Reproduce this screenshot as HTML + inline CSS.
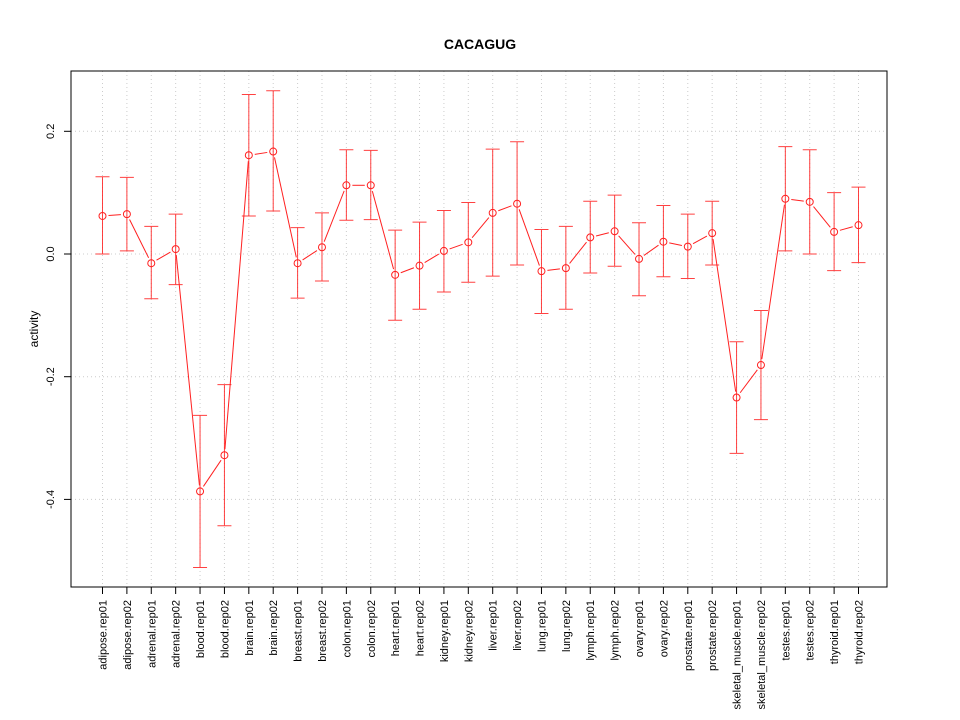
<!DOCTYPE html>
<html><head><meta charset="utf-8"><style>body{margin:0;background:#fff}svg{display:block}</style></head>
<body>
<svg id="chart" width="960" height="720" xmlns="http://www.w3.org/2000/svg" font-family="Liberation Sans, sans-serif">
<rect width="960" height="720" fill="#fff"/>
<text x="480" y="49" text-anchor="middle" font-size="14" font-weight="bold">CACAGUG</text>
<text transform="translate(38,329) rotate(-90)" text-anchor="middle" font-size="12">activity</text>
<g id="grid"></g><g id="axes"></g><g id="marks"></g>
<rect x="71" y="71" width="816" height="516" fill="none" stroke="#000"/>
</svg>
<script>
const categories=["adipose.rep01","adipose.rep02","adrenal.rep01","adrenal.rep02","blood.rep01","blood.rep02","brain.rep01","brain.rep02","breast.rep01","breast.rep02","colon.rep01","colon.rep02","heart.rep01","heart.rep02","kidney.rep01","kidney.rep02","liver.rep01","liver.rep02","lung.rep01","lung.rep02","lymph.rep01","lymph.rep02","ovary.rep01","ovary.rep02","prostate.rep01","prostate.rep02","skeletal_muscle.rep01","skeletal_muscle.rep02","testes.rep01","testes.rep02","thyroid.rep01","thyroid.rep02"];
const values=[0.062,0.065,-0.015,0.008,-0.387,-0.328,0.161,0.167,-0.015,0.011,0.112,0.112,-0.034,-0.019,0.005,0.019,0.067,0.082,-0.028,-0.023,0.027,0.037,-0.008,0.02,0.012,0.034,-0.234,-0.181,0.09,0.085,0.036,0.047];
const upper=[0.126,0.125,0.045,0.065,-0.263,-0.213,0.26,0.266,0.043,0.067,0.17,0.169,0.039,0.052,0.071,0.084,0.171,0.183,0.04,0.045,0.086,0.096,0.051,0.079,0.065,0.086,-0.143,-0.092,0.175,0.17,0.1,0.109];
const lower=[0.0,0.005,-0.073,-0.05,-0.511,-0.443,0.062,0.07,-0.072,-0.044,0.055,0.056,-0.108,-0.09,-0.062,-0.046,-0.036,-0.018,-0.097,-0.09,-0.031,-0.02,-0.068,-0.037,-0.04,-0.018,-0.325,-0.27,0.005,0.0,-0.027,-0.014];
const yTicks=[-0.4,-0.2,0.0,0.2];
const yTickLabels=["-0.4","-0.2","0.0","0.2"];
const NS="http://www.w3.org/2000/svg";
const xs=i=>102.5+i*(756/31);
const ys=v=>254-v*613.5;
function mk(tag,attrs,parent){const e=document.createElementNS(NS,tag);for(const k in attrs)e.setAttribute(k,attrs[k]);parent.appendChild(e);return e;}
const grid=document.getElementById('grid'),axes=document.getElementById('axes'),marks=document.getElementById('marks');
categories.forEach((c,i)=>{
  const g=mk('line',{x1:xs(i),x2:xs(i),y1:71,y2:587,stroke:'#ccc','stroke-dasharray':'1,3'},grid);
  
  const t=mk('line',{x1:xs(i),x2:xs(i),y1:587,y2:594,stroke:'#000'},axes);
  
  const l=mk('text',{transform:`translate(${xs(i)+4},600) rotate(-90)`,'text-anchor':'end','font-size':11},axes);
  l.textContent=c;
  
});
yTicks.forEach((v,i)=>{
  const g=mk('line',{x1:71,x2:887,y1:ys(v),y2:ys(v),stroke:'#ccc','stroke-dasharray':'1,3'},grid);
  
  const t=mk('line',{x1:64,x2:71,y1:ys(v),y2:ys(v),stroke:'#000'},axes);
  
  const l=mk('text',{transform:`translate(54,${ys(v)}) rotate(-90)`,'text-anchor':'middle','font-size':11},axes);
  l.textContent=yTickLabels[i];
  
});
const red='#ff2020';
values.forEach((v,i)=>{
  const x=xs(i);
  const e=mk('path',{d:`M${x},${ys(upper[i])}V${ys(lower[i])}M${x-7},${ys(upper[i])}h14M${x-7},${ys(lower[i])}h14`,stroke:red,'stroke-opacity':0.85,fill:'none'},marks);
  
  if(i<values.length-1){
    const x2=xs(i+1),y1=ys(v),y2=ys(values[i+1]);
    const dx=x2-x,dy=y2-y1,L=Math.hypot(dx,dy),g=6;
    if(L>2*g){
      const s=mk('line',{x1:x+dx*g/L,y1:y1+dy*g/L,x2:x2-dx*g/L,y2:y2-dy*g/L,stroke:red},marks);
      
    }
  }
  const p=mk('circle',{cx:x,cy:ys(v),r:3.5,fill:'none',stroke:red},marks);
  
});
</script>
</body></html>
